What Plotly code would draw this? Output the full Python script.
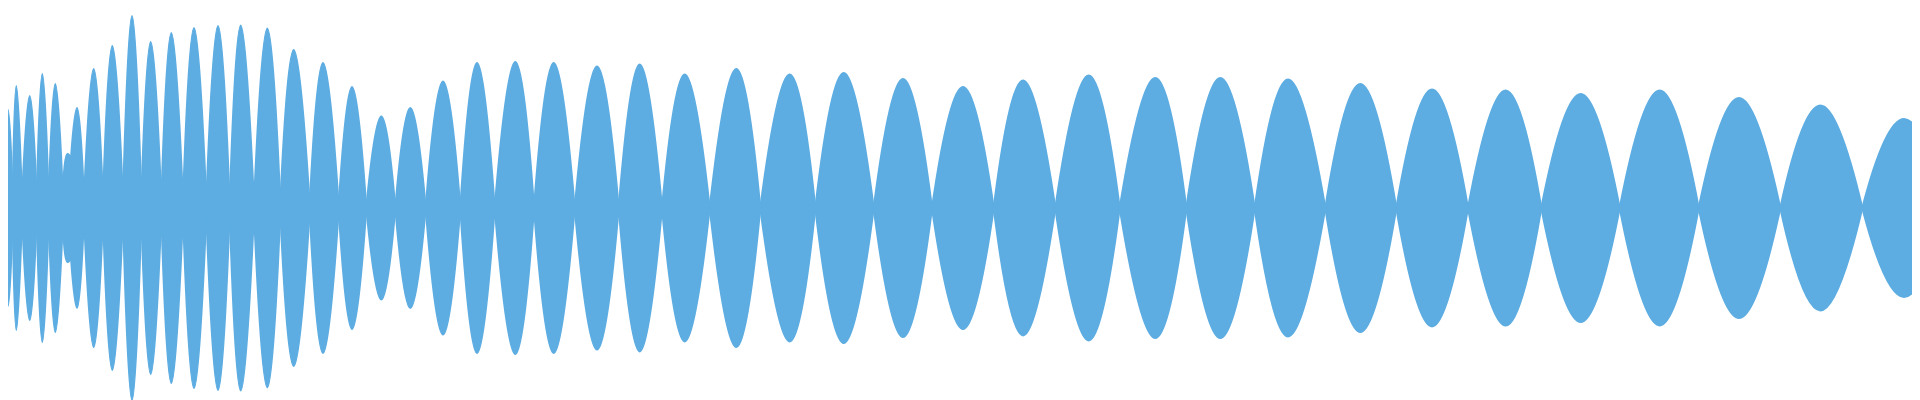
import plotly.graph_objects as go

# Waveform envelope (full scale = 1).
# Lobe i runs from crossing[i] to crossing[i + 1] and peaks at peak_x[i].
crossing_x = [-4.7, 4.7, 14.0, 28.7, 40.7, 55.0, 63.0, 76.0, 95.0, 115.0, 133.3, 153.3,
              175.0, 198.3, 221.7, 246.0, 272.3, 301.7, 330.7, 358.3, 387.3, 417.7, 452.3,
              486.7, 526.0, 566.7, 610.7, 654.0, 701.7, 752.3, 807.3, 865.7, 924.0, 985.7,
              1047.3, 1111.7, 1178.3, 1246.7, 1317.3, 1388.3, 1460.0, 1533.3, 1611.7, 1690.7,
              1772.3, 1854.3, 1940.0]
crossing_amp = [0.04, 0.04, 0.04, 0.04, 0.04, 0.04, 0.25, 0.04, 0.04, 0.04, 0.04, 0.03,
                0.03, 0.03, 0.02, 0.02, 0.02, 0.015, 0.01, 0.0, 0.0, 0.0, 0.0, 0.0, 0.0,
                0.0, 0.0, 0.0, 0.0, 0.0, 0.0, 0.0, 0.0, 0.0, 0.0, 0.0, 0.0, 0.0, 0.0, 0.0,
                0.0, 0.0, 0.0, 0.0, 0.0, 0.0, 0.0]
peak_x = [0.0, 8.3, 21.7, 34.3, 47.3, 59.5, 69.0, 85.7, 104.3, 124.0, 142.7, 163.3,
          186.0, 210.0, 232.7, 259.3, 285.7, 315.0, 344.0, 373.3, 402.3, 435.0, 469.0,
          507.3, 545.7, 589.0, 631.7, 676.7, 728.3, 781.7, 835.7, 895.0, 955.0, 1015.0,
          1080.7, 1147.3, 1212.3, 1280.0, 1352.3, 1424.0, 1497.7, 1572.7, 1651.7, 1731.0,
          1812.3, 1896.0]
peak_amp = [0.49, 0.61, 0.56, 0.67, 0.62, 0.27, 0.50, 0.695, 0.81, 0.96, 0.83, 0.875,
            0.90, 0.91, 0.913, 0.897, 0.79, 0.725, 0.605, 0.458, 0.50, 0.633, 0.725,
            0.73, 0.725, 0.708, 0.717, 0.667, 0.695, 0.667, 0.675, 0.645, 0.605, 0.637,
            0.662, 0.65, 0.65, 0.642, 0.62, 0.592, 0.588, 0.57, 0.587, 0.55, 0.512, 0.445]

COLOR = "#5dade2"

# one spline segment per lobe (crossing -> peak -> crossing), gaps between lobes
xs, top, bottom = [], [], []
for i in range(len(peak_x)):
    xs.extend([crossing_x[i], peak_x[i], crossing_x[i + 1], None])
    amps = [crossing_amp[i], peak_amp[i], crossing_amp[i + 1]]
    top.extend(amps + [None])
    bottom.extend([-a for a in amps] + [None])

fig = go.Figure()
for ys in (top, bottom):
    fig.add_trace(
        go.Scatter(
            x=xs,
            y=ys,
            mode="lines",
            line={"color": COLOR, "width": 2, "shape": "spline", "smoothing": 1.3, "simplify": False},
            fill="tozeroy",
            fillcolor=COLOR,
            hoverinfo="skip",
            showlegend=False,
        )
    )

fig.update_layout(
    width=1920,
    height=400,
    margin={"l": 0, "r": 0, "t": 0, "b": 0},
    paper_bgcolor="white",
    plot_bgcolor="white",
    xaxis={"range": [0, 1920], "visible": False},
    yaxis={
        "range": [-1, 1],
        "showgrid": False,
        "showticklabels": False,
        "ticks": "",
        "zeroline": True,
        "zerolinecolor": COLOR,
        "zerolinewidth": 2,
    },
)
fig.write_html("out.html")
